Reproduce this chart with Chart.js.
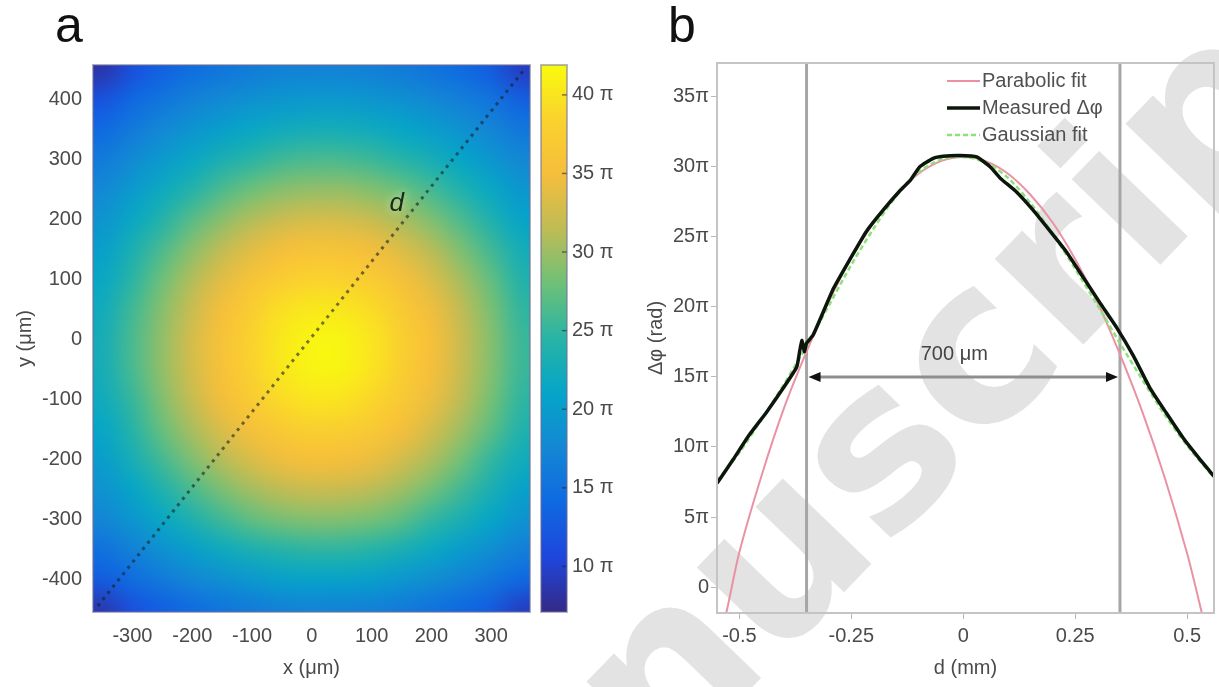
<!DOCTYPE html>
<html>
<head>
<meta charset="utf-8">
<title>Phase map and diagonal profile</title>
<script src="https://cdn.jsdelivr.net/npm/chart.js@4.4.1/dist/chart.umd.min.js"></script>
<style>
  html, body { margin: 0; padding: 0; background: #fff; }
  body { position: relative; width: 1219px; height: 687px; overflow: hidden; }
  canvas { position: absolute; top: 0; }
  .panel { position: absolute; top: 0; font: 50px "Liberation Sans", Arial, sans-serif; line-height: 50px; color: #111; }
</style>
</head>
<body>
<canvas id="wm" width="1219" height="687" style="left:0"></canvas>
<canvas id="mapChart" width="535" height="687" style="left:0"></canvas>
<canvas id="barChart" width="85" height="687" style="left:535px"></canvas>
<canvas id="profileChart" width="599" height="687" style="left:620px"></canvas>
<div class="panel" style="left:55px">a</div>
<div class="panel" style="left:668px">b</div>
<script>
// ---- panel a : phase map (values in units of pi)
const mapX = [-350, -300, -250, -200, -150, -100, -50, 0, 50, 100, 150, 200, 250, 300, 350];
const mapY = [450, 400, 350, 300, 250, 200, 150, 100, 50, 0, -50, -100, -150, -200, -250, -300, -350, -400, -450];
const phaseMap = [
  [8.5, 11.5, 13.4, 14.6, 15.5, 16.3, 16.8, 17.0, 17.0, 16.7, 16.1, 15.3, 14.3, 12.8, 9.5],
  [11.8, 14.1, 15.5, 16.8, 17.9, 18.7, 19.3, 19.6, 19.6, 19.2, 18.6, 17.7, 16.6, 15.3, 13.2],
  [14.3, 16.0, 17.6, 19.1, 20.3, 21.4, 22.2, 22.7, 22.6, 22.1, 21.2, 20.1, 18.8, 17.3, 15.7],
  [16.0, 17.9, 19.7, 21.5, 23.2, 24.6, 25.7, 26.2, 26.1, 25.5, 24.3, 22.9, 21.1, 19.3, 17.5],
  [17.6, 19.7, 21.9, 24.1, 26.3, 28.0, 29.1, 29.6, 29.6, 28.9, 27.7, 25.9, 23.7, 21.4, 19.3],
  [19.1, 21.5, 24.1, 26.9, 29.2, 31.0, 32.2, 32.9, 32.8, 32.0, 30.6, 28.7, 26.3, 23.6, 20.9],
  [20.3, 23.2, 26.3, 29.2, 31.6, 33.7, 35.1, 35.8, 35.7, 34.9, 33.3, 31.2, 28.6, 25.7, 22.6],
  [21.4, 24.6, 28.0, 31.0, 33.7, 35.9, 37.6, 38.4, 38.3, 37.3, 35.5, 33.2, 30.4, 27.4, 23.9],
  [22.2, 25.7, 29.1, 32.2, 35.1, 37.6, 39.5, 40.3, 40.2, 39.2, 37.1, 34.6, 31.6, 28.5, 24.9],
  [22.7, 26.2, 29.6, 32.9, 35.8, 38.4, 40.3, 41.4, 41.3, 40.0, 37.9, 35.3, 32.2, 29.0, 25.4],
  [22.6, 26.1, 29.6, 32.8, 35.7, 38.3, 40.2, 41.3, 41.2, 39.9, 37.8, 35.2, 32.1, 28.9, 25.4],
  [22.1, 25.2, 28.9, 32.0, 34.9, 37.3, 39.2, 40.0, 39.9, 38.8, 36.9, 34.4, 31.4, 28.3, 24.8],
  [21.2, 24.3, 27.7, 30.6, 33.3, 35.5, 37.1, 37.9, 37.8, 36.9, 35.1, 32.8, 30.1, 27.1, 23.7],
  [20.1, 22.9, 25.9, 28.7, 31.2, 33.2, 34.6, 35.3, 35.2, 34.4, 32.8, 30.7, 28.2, 25.0, 22.3],
  [18.8, 21.1, 23.7, 26.3, 28.6, 30.4, 31.6, 32.2, 32.1, 31.4, 30.1, 28.2, 25.8, 23.2, 20.6],
  [17.3, 19.3, 21.4, 23.6, 25.7, 27.4, 28.5, 29.0, 28.9, 28.3, 27.1, 25.0, 23.2, 21.0, 18.9],
  [15.1, 16.9, 18.7, 20.3, 22.0, 23.3, 24.3, 24.8, 24.8, 24.2, 23.1, 21.7, 20.0, 18.3, 16.6],
  [12.8, 14.5, 16.0, 17.4, 18.6, 19.6, 20.4, 20.8, 20.7, 20.3, 19.4, 18.4, 17.1, 15.7, 14.1],
  [8.8, 11.7, 13.1, 14.4, 15.4, 16.2, 16.8, 17.1, 17.0, 16.7, 16.0, 15.2, 14.1, 12.8, 9.5]
];
const mapXTicks = [-300, -200, -100, 0, 100, 200, 300];
const mapYTicks = [400, 300, 200, 100, 0, -100, -200, -300, -400];
const cutLine = [{ x: -358, y: -445 }, { x: 355, y: 450 }];
const cutLabel = { x: 142, y: 226, text: 'd' };
const cbTicks = [10, 15, 20, 25, 30, 35, 40];
const cbMin = 7.1;
const cbMax = 41.9;

// ---- panel b : profile along d (mm, units of pi)
const measuredD = [-0.550, -0.514, -0.477, -0.439, -0.402, -0.372, -0.365, -0.360, -0.355, -0.350, -0.335, -0.290, -0.253, -0.216, -0.179, -0.141, -0.119, -0.097, -0.067, -0.045, -0.007, 0.030, 0.060, 0.082, 0.119, 0.156, 0.194, 0.231, 0.268, 0.305, 0.343, 0.380, 0.417, 0.454, 0.492, 0.529, 0.560];
const measuredPhase = [7.4, 9.1, 10.9, 12.5, 14.2, 15.7, 16.9, 17.6, 16.8, 17.4, 18.0, 21.3, 23.4, 25.4, 26.9, 28.3, 29.0, 30.0, 30.6, 30.75, 30.8, 30.7, 30.0, 29.2, 28.2, 26.9, 25.4, 23.9, 22.1, 20.3, 18.5, 16.5, 14.2, 12.4, 10.6, 9.1, 7.9];
const gaussD = [-0.55, -0.50, -0.45, -0.40, -0.35, -0.30, -0.25, -0.20, -0.15, -0.10, -0.05, 0, 0.05, 0.10, 0.15, 0.20, 0.25, 0.30, 0.35, 0.40, 0.45, 0.50, 0.56];
const gaussPhase = [7.6, 9.6, 12.0, 14.5, 17.2, 20.1, 23.0, 25.6, 27.9, 29.6, 30.5, 30.7, 30.3, 29.2, 27.4, 25.2, 22.7, 20.1, 17.4, 14.8, 12.3, 10.1, 7.8];
const paraD = [-0.545, -0.529, -0.50, -0.45, -0.40, -0.35, -0.30, -0.25, -0.20, -0.15, -0.10, -0.05, 0, 0.05, 0.10, 0.15, 0.20, 0.25, 0.30, 0.35, 0.40, 0.45, 0.50, 0.531, 0.545];
const paraPhase = [-3.6, -1.8, 2.5, 8.0, 12.8, 16.8, 20.4, 23.5, 26.0, 28.0, 29.5, 30.4, 30.7, 30.4, 29.5, 28.0, 26.0, 23.4, 20.3, 16.6, 12.5, 7.8, 2.4, -1.6, -3.5];
const profileXTicks = [-0.5, -0.25, 0, 0.25, 0.5];
const profileYTicks = [0, 5, 10, 15, 20, 25, 30, 35];
const fwhmD = [-0.35, 0.35];
const fwhmLevel = 15;
const fwhmLabel = { x: -0.02, y: 16.6, text: '700 μm' };
const seriesNames = ['Parabolic fit', 'Measured Δφ', 'Gaussian fit'];

Chart.defaults.font.family = '"Liberation Sans", Arial, sans-serif';
Chart.defaults.font.size = 20;
Chart.defaults.color = '#4a4a4a';

// parula-like colour map
const parula = [[53, 42, 135], [30, 70, 220], [15, 105, 225], [20, 135, 212], [5, 165, 200], [40, 180, 165],
  [110, 192, 120], [190, 188, 85], [245, 190, 60], [250, 210, 45], [249, 251, 14]];
function mapColor(t) {
  t = Math.min(1, Math.max(0, t));
  const p = t * (parula.length - 1);
  const i = Math.min(Math.floor(p), parula.length - 2);
  const f = p - i;
  return parula[i].map((c, k) => Math.round(c + (parula[i + 1][k] - c) * f));
}

const xy = (xs, ys) => xs.map((v, i) => ({ x: v, y: ys[i] }));
const fixTicks = list => scale => { scale.ticks = list.map(v => ({ value: v })); };

// draws the phase map cells through the chart scales
const heatmapPlugin = {
  id: 'heatmap',
  beforeDatasetsDraw(chart) {
    const { ctx, chartArea, scales: { x, y } } = chart;
    const off = document.createElement('canvas');
    off.width = mapX.length;
    off.height = mapY.length;
    const octx = off.getContext('2d');
    const img = octx.createImageData(off.width, off.height);
    phaseMap.forEach((row, j) => row.forEach((v, i) => {
      const c = mapColor((v - cbMin) / (cbMax - cbMin));
      const k = (j * off.width + i) * 4;
      img.data[k] = c[0]; img.data[k + 1] = c[1]; img.data[k + 2] = c[2]; img.data[k + 3] = 255;
    }));
    octx.putImageData(img, 0, 0);
    const half = (mapX[1] - mapX[0]) / 2;
    const left = x.getPixelForValue(mapX[0] - half);
    const right = x.getPixelForValue(mapX[mapX.length - 1] + half);
    const top = y.getPixelForValue(mapY[0] + half);
    const bottom = y.getPixelForValue(mapY[mapY.length - 1] - half);
    ctx.save();
    ctx.beginPath();
    ctx.rect(chartArea.left, chartArea.top, chartArea.width, chartArea.height);
    ctx.clip();
    ctx.imageSmoothingEnabled = true;
    ctx.imageSmoothingQuality = 'high';
    ctx.drawImage(off, left, top, right - left, bottom - top);
    ctx.restore();
  },
  afterDatasetsDraw(chart) {
    const { ctx, scales: { x, y } } = chart;
    ctx.save();
    ctx.font = 'italic 26px "Liberation Sans", Arial, sans-serif';
    ctx.textAlign = 'center';
    ctx.textBaseline = 'middle';
    ctx.shadowColor = 'rgba(230,240,200,0.9)';
    ctx.shadowBlur = 10;
    ctx.fillStyle = '#1c2a1c';
    ctx.fillText(cutLabel.text, x.getPixelForValue(cutLabel.x), y.getPixelForValue(cutLabel.y));
    ctx.restore();
  }
};

// outline of the plot box
const frame = color => ({
  id: 'frame',
  afterDraw(chart) {
    const { ctx, chartArea: a } = chart;
    ctx.save();
    ctx.strokeStyle = color;
    ctx.lineWidth = 2;
    ctx.strokeRect(a.left, a.top, a.width, a.height);
    ctx.restore();
  }
});

// colour bar gradient and inner ticks
const colorbarPlugin = {
  id: 'colorbar',
  beforeDatasetsDraw(chart) {
    const { ctx, chartArea: a, scales: { y } } = chart;
    const g = ctx.createLinearGradient(0, y.getPixelForValue(cbMin), 0, y.getPixelForValue(cbMax));
    parula.forEach((c, i) => g.addColorStop(i / (parula.length - 1), `rgb(${c[0]},${c[1]},${c[2]})`));
    ctx.save();
    ctx.fillStyle = g;
    ctx.fillRect(a.left, a.top, a.width, a.height);
    ctx.strokeStyle = 'rgba(40,40,60,0.6)';
    ctx.lineWidth = 1.5;
    cbTicks.forEach(v => {
      const py = y.getPixelForValue(v);
      ctx.beginPath();
      ctx.moveTo(a.right - 5, py);
      ctx.lineTo(a.right, py);
      ctx.stroke();
    });
    ctx.restore();
  }
};

// FWHM markers, arrow and legend of panel b
const profileExtras = {
  id: 'profileExtras',
  beforeDatasetsDraw(chart) {
    const { ctx, chartArea: a, scales: { x, y } } = chart;
    ctx.save();
    ctx.strokeStyle = '#a6a6a6';
    ctx.lineWidth = 3;
    fwhmD.forEach(d => {
      const px = x.getPixelForValue(d);
      ctx.beginPath();
      ctx.moveTo(px, a.top);
      ctx.lineTo(px, a.bottom);
      ctx.stroke();
    });
    const x0 = x.getPixelForValue(fwhmD[0]);
    const x1 = x.getPixelForValue(fwhmD[1]);
    const py = y.getPixelForValue(fwhmLevel);
    ctx.strokeStyle = '#8e8e8e';
    ctx.beginPath();
    ctx.moveTo(x0 + 8, py);
    ctx.lineTo(x1 - 8, py);
    ctx.stroke();
    ctx.fillStyle = '#111';
    [[x0 + 2, 1], [x1 - 2, -1]].forEach(([tip, dir]) => {
      ctx.beginPath();
      ctx.moveTo(tip, py);
      ctx.lineTo(tip + dir * 12, py - 5);
      ctx.lineTo(tip + dir * 12, py + 5);
      ctx.closePath();
      ctx.fill();
    });
    ctx.fillStyle = '#444';
    ctx.font = '20px "Liberation Sans", Arial, sans-serif';
    ctx.textAlign = 'center';
    ctx.textBaseline = 'middle';
    ctx.fillText(fwhmLabel.text, x.getPixelForValue(fwhmLabel.x), y.getPixelForValue(fwhmLabel.y));
    ctx.restore();
  },
  afterDraw(chart) {
    const { ctx, chartArea: a } = chart;
    ctx.save();
    ctx.font = '20px "Liberation Sans", Arial, sans-serif';
    ctx.textBaseline = 'middle';
    ctx.textAlign = 'left';
    chart.data.datasets.forEach((ds, i) => {
      const ly = a.top + 18 + i * 27;
      const lx = a.right - 267;
      ctx.strokeStyle = ds.borderColor;
      ctx.lineWidth = ds.borderWidth;
      ctx.setLineDash(ds.borderDash || []);
      ctx.beginPath();
      ctx.moveTo(lx, ly);
      ctx.lineTo(lx + 33, ly);
      ctx.stroke();
      ctx.setLineDash([]);
      ctx.fillStyle = '#505050';
      ctx.fillText(ds.label, lx + 35, ly);
    });
    ctx.restore();
  }
};

// panel a
new Chart(document.getElementById('mapChart'), {
  type: 'scatter',
  data: {
    datasets: [{
      data: cutLine,
      showLine: true,
      borderColor: 'rgba(25,30,35,0.6)',
      borderWidth: 3,
      borderDash: [3, 5],
      pointRadius: 0
    }]
  },
  options: {
    responsive: false,
    animation: false,
    layout: { padding: { left: 0, right: 5, top: 65, bottom: 0 } },
    plugins: { legend: { display: false }, tooltip: { enabled: false } },
    scales: {
      x: {
        type: 'linear', min: -366, max: 365,
        afterFit: s => { s.height = 75; },
        afterBuildTicks: fixTicks(mapXTicks),
        grid: { display: false, drawTicks: false },
        border: { display: false },
        ticks: { padding: 12, autoSkip: false, maxRotation: 0, callback: v => String(v) },
        title: { display: true, text: 'x (μm)', padding: { top: 0, bottom: 7 } }
      },
      y: {
        type: 'linear', min: -455, max: 458,
        afterFit: s => { s.width = 93; },
        afterBuildTicks: fixTicks(mapYTicks),
        grid: { display: false, drawTicks: false },
        border: { display: false },
        ticks: { padding: 11, autoSkip: false, callback: v => String(v) },
        title: { display: true, text: 'y (μm)', padding: { top: 13, bottom: 0 } }
      }
    }
  },
  plugins: [heatmapPlugin, frame('rgba(110,110,150,0.55)')]
});

// colour bar
new Chart(document.getElementById('barChart'), {
  type: 'scatter',
  data: { datasets: [] },
  options: {
    responsive: false,
    animation: false,
    layout: { padding: { left: 6, right: 0, top: 65, bottom: 75 } },
    plugins: { legend: { display: false }, tooltip: { enabled: false } },
    scales: {
      x: { display: false, min: 0, max: 1 },
      y: {
        position: 'right', min: cbMin, max: cbMax,
        afterFit: s => { s.width = 53; },
        afterBuildTicks: fixTicks(cbTicks),
        grid: { display: false, drawTicks: false },
        border: { display: false },
        ticks: { padding: 5, autoSkip: false, callback: v => v + ' π' }
      }
    }
  },
  plugins: [colorbarPlugin, frame('rgba(110,110,150,0.5)')]
});

// panel b
new Chart(document.getElementById('profileChart'), {
  type: 'line',
  data: {
    datasets: [
      { label: seriesNames[0], data: xy(paraD, paraPhase), borderColor: 'rgb(234,146,164)', borderWidth: 2, tension: 0.3, pointRadius: 0, order: 3 },
      { label: seriesNames[1], data: xy(measuredD, measuredPhase), borderColor: '#0d160d', borderWidth: 3.5, tension: 0.15, pointRadius: 0, order: 1 },
      { label: seriesNames[2], data: xy(gaussD, gaussPhase), borderColor: 'rgb(140,225,120)', borderWidth: 2.5, borderDash: [5, 3], tension: 0.3, pointRadius: 0, order: 2 }
    ]
  },
  options: {
    responsive: false,
    animation: false,
    layout: { padding: { left: 0, right: 5, top: 63, bottom: 0 } },
    plugins: { legend: { display: false }, tooltip: { enabled: false } },
    scales: {
      x: {
        type: 'linear', min: -0.55, max: 0.56,
        afterFit: s => { s.height = 74; },
        afterBuildTicks: fixTicks(profileXTicks),
        grid: { display: true, drawOnChartArea: false, drawTicks: true, tickLength: 6, color: '#b8b8b8' },
        border: { display: false },
        ticks: { padding: 5, autoSkip: false, maxRotation: 0, callback: v => String(v) },
        title: { display: true, text: 'd (mm)', padding: { top: 0, bottom: 7 } }
      },
      y: {
        type: 'linear', min: -1.85, max: 37.4,
        afterFit: s => { s.width = 97; },
        afterBuildTicks: fixTicks(profileYTicks),
        grid: { display: true, drawOnChartArea: false, drawTicks: true, tickLength: 6, color: '#b8b8b8' },
        border: { display: false },
        ticks: { padding: 2, autoSkip: false, callback: v => (v === 0 ? '0' : v + 'π') },
        title: { display: true, text: 'Δφ (rad)', padding: { top: 24, bottom: 0 } }
      }
    }
  },
  plugins: [profileExtras, frame('#c4c4c4')]
});

// faint "Manuscript" watermark behind the charts
(function () {
  const ctx = document.getElementById('wm').getContext('2d');
  ctx.save();
  ctx.translate(401, 1051);
  ctx.rotate(-46 * Math.PI / 180);
  ctx.font = 'bold 225px "DejaVu Sans", sans-serif';
  ctx.fillStyle = '#e3e3e3';
  ctx.fillText('Manuscript', 0, 0);
  ctx.restore();
})();
</script>
</body>
</html>
